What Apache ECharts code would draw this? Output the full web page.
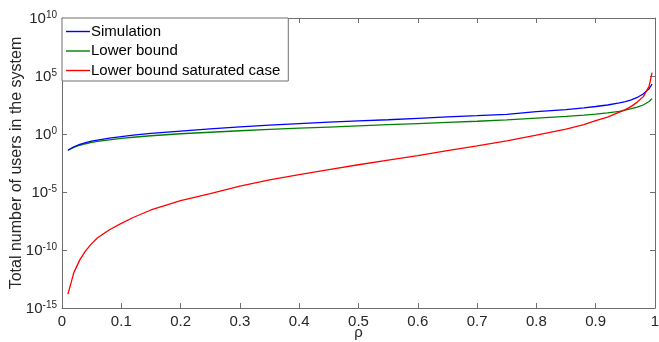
<!DOCTYPE html>
<html>
<head>
<meta charset="utf-8">
<script src="https://cdn.jsdelivr.net/npm/echarts@6/dist/echarts.min.js"></script>
<style>
html,body{margin:0;padding:0;background:#fff;}
#chart{width:659px;height:342px;}
</style>
</head>
<body>
<div id="chart"></div>
<script>
// rho values (x)
var rho = [0.01,0.02,0.03,0.04,0.05,0.06,0.08,0.10,0.12,0.15,0.20,0.25,0.30,0.35,0.40,0.45,0.50,0.55,0.60,0.65,0.70,0.75,0.80,0.85,0.88,0.90,0.92,0.94,0.95,0.96,0.97,0.98,0.99,0.995];
// values, as powers of ten (log10 of the number of users)
var simulationExp = [-1.40,-1.10,-0.90,-0.75,-0.62,-0.52,-0.35,-0.22,-0.10,0.05,0.25,0.45,0.62,0.77,0.90,1.02,1.13,1.23,1.35,1.47,1.58,1.70,1.93,2.10,2.25,2.37,2.50,2.68,2.80,2.95,3.15,3.45,3.90,4.30];
var lowerBoundExp = [-1.40,-1.15,-0.97,-0.84,-0.73,-0.64,-0.50,-0.38,-0.28,-0.15,0.02,0.15,0.28,0.40,0.50,0.60,0.70,0.80,0.90,1.00,1.10,1.22,1.37,1.52,1.63,1.72,1.82,1.95,2.05,2.18,2.32,2.50,2.80,3.05];
var saturatedExp = [-13.80,-11.95,-10.85,-10.05,-9.45,-8.95,-8.25,-7.70,-7.20,-6.55,-5.75,-5.15,-4.50,-3.95,-3.50,-3.07,-2.65,-2.25,-1.86,-1.44,-1.03,-0.60,-0.10,0.42,0.80,1.15,1.45,1.88,2.10,2.38,2.75,3.20,4.10,5.30];
var seriesNames = ['Simulation','Lower bound','Lower bound saturated case'];
var seriesColors = ['#0000ff','#008000','#ff0000'];
var xTicks = [0,0.1,0.2,0.3,0.4,0.5,0.6,0.7,0.8,0.9,1];
var yTickExps = [-15,-10,-5,0,5,10];

function toPairs(exps){
  return rho.map(function(r,i){ return [r, Math.pow(10, exps[i])]; });
}

var font = 'Arial, "Liberation Sans", Helvetica, sans-serif';
var axisGrey = '#6e6e6e';
var txt = '#262626';

var chart = echarts.init(document.getElementById('chart'), null, {renderer:'canvas'});
var commonTick = {show:true, inside:true, length:5, lineStyle:{color:axisGrey, width:1}};
var commonLine = {show:true, onZero:false, lineStyle:{color:axisGrey, width:1}};

chart.setOption({
  animation:false,
  backgroundColor:'#fff',
  grid:{left:62, right:4, top:18, bottom:34, containLabel:false, outerBoundsMode:'none'},
  legend:{
    orient:'vertical', left:62, top:18,
    data:seriesNames.map(function(n){ return {name:n, icon:'rect'}; }),
    itemWidth:24, itemHeight:1.4, itemGap:4.5,
    padding:[6,8,3,4],
    backgroundColor:'#fff', borderColor:axisGrey, borderWidth:1, borderRadius:0,
    textStyle:{fontFamily:font, fontSize:15, color:'#000', padding:[0,0,0,-4]},
    selectedMode:false
  },
  xAxis:[{
    type:'value', min:xTicks[0], max:xTicks[xTicks.length-1], interval:0.1,
    axisLine:commonLine, axisTick:commonTick, splitLine:{show:false},
    axisLabel:{fontFamily:font, fontSize:15, color:txt, margin:6,
      formatter:function(v){ return String(Math.round(v*10)/10); }},
    name:'\u03c1', nameLocation:'middle', nameGap:17, nameMoveOverlap:false,
    nameTextStyle:{fontFamily:font, fontSize:15, color:txt}
  },{
    type:'value', position:'top', min:0, max:1, interval:0.1,
    axisLine:commonLine, axisTick:commonTick, axisLabel:{show:false}, splitLine:{show:false}
  }],
  yAxis:[{
    type:'log', logBase:10, min:Math.pow(10,yTickExps[0]), max:Math.pow(10,yTickExps[yTickExps.length-1]), interval:5, splitNumber:5,
    axisLine:commonLine, axisTick:commonTick, splitLine:{show:false}, minorTick:{show:false},
    axisLabel:{fontFamily:font, color:txt, margin:5,
      formatter:function(v){ var e=Math.round(Math.log10(v)); return '{b|10}{s|'+e+'}'; },
      rich:{
        b:{fontFamily:font, fontSize:15, color:txt, verticalAlign:'bottom', lineHeight:16, padding:[6,0,0,0]},
        s:{fontFamily:font, fontSize:10, color:txt, verticalAlign:'top', lineHeight:10}
      }
    },
    name:'Total number of users in the system', nameLocation:'middle', nameGap:37, nameMoveOverlap:false,
    nameTextStyle:{fontFamily:font, fontSize:16, color:txt}
  },{
    type:'log', logBase:10, position:'right', min:1e-15, max:1e10, interval:5, splitNumber:5,
    axisLine:commonLine, axisTick:commonTick, axisLabel:{show:false}, splitLine:{show:false}, minorTick:{show:false}
  }],
  series:[
    {name:seriesNames[0], type:'line', data:toPairs(simulationExp), symbol:'none', showSymbol:false,
      lineStyle:{color:seriesColors[0], width:1.3}, itemStyle:{color:seriesColors[0]}, z:3},
    {name:seriesNames[1], type:'line', data:toPairs(lowerBoundExp), symbol:'none', showSymbol:false,
      lineStyle:{color:seriesColors[1], width:1.3}, itemStyle:{color:seriesColors[1]}, z:2},
    {name:seriesNames[2], type:'line', data:toPairs(saturatedExp), symbol:'none', showSymbol:false,
      lineStyle:{color:seriesColors[2], width:1.3}, itemStyle:{color:seriesColors[2]}, z:4}
  ]
});
</script>
</body>
</html>
